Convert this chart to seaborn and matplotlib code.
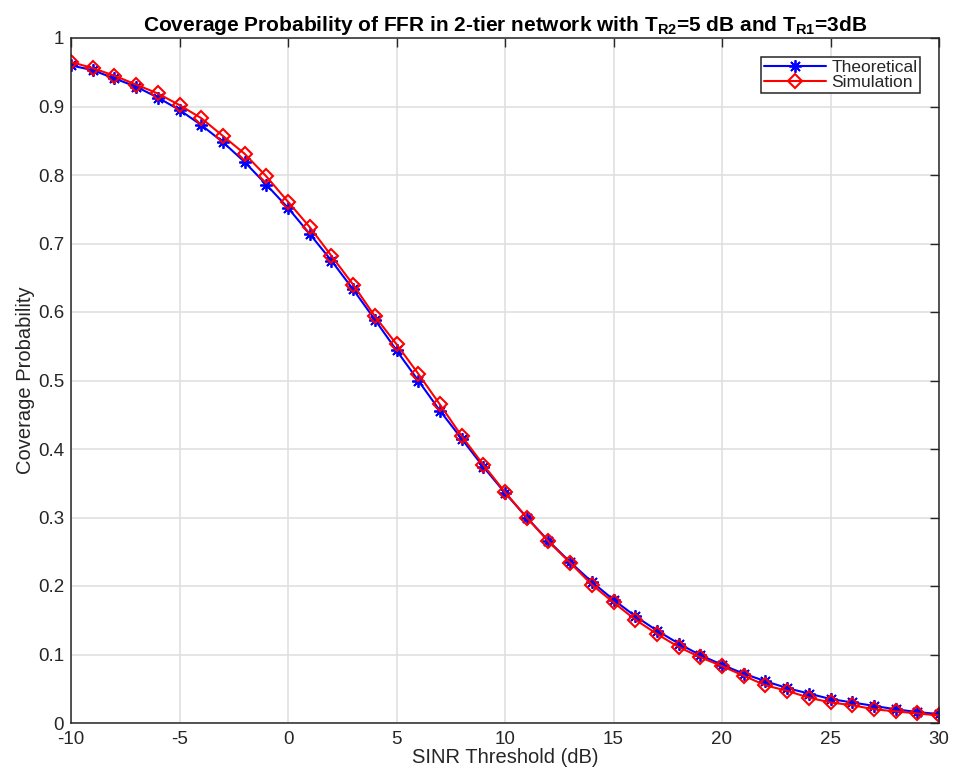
import numpy as np
import pandas as pd
import matplotlib
matplotlib.use("Agg")
import matplotlib.pyplot as plt
import seaborn as sns

sinr_db = list(range(-10, 31))
theoretical = [0.960, 0.953, 0.941, 0.929, 0.913, 0.895, 0.873, 0.848, 0.819, 0.786,
               0.752, 0.714, 0.675, 0.633, 0.589, 0.544, 0.500, 0.456, 0.415, 0.374,
               0.336, 0.300, 0.266, 0.235, 0.206, 0.180, 0.156, 0.135, 0.116, 0.099,
               0.085, 0.072, 0.061, 0.051, 0.043, 0.035, 0.030, 0.025, 0.020, 0.016, 0.013]
simulation = [0.965, 0.956, 0.945, 0.932, 0.919, 0.902, 0.883, 0.857, 0.831, 0.798,
              0.761, 0.724, 0.682, 0.640, 0.594, 0.553, 0.510, 0.465, 0.419, 0.377,
              0.337, 0.300, 0.265, 0.234, 0.202, 0.176, 0.151, 0.130, 0.111, 0.096,
              0.083, 0.069, 0.055, 0.047, 0.037, 0.030, 0.026, 0.020, 0.017, 0.014, 0.011]
x_ticks = [-10, -5, 0, 5, 10, 15, 20, 25, 30]
y_ticks = [0, 0.1, 0.2, 0.3, 0.4, 0.5, 0.6, 0.7, 0.8, 0.9, 1]
y_tick_labels = ["0", "0.1", "0.2", "0.3", "0.4", "0.5", "0.6", "0.7", "0.8", "0.9", "1"]

sns.set_style("white")
plt.rcParams['font.family'] = ['Liberation Sans', 'DejaVu Sans']
plt.rcParams['mathtext.fontset'] = 'custom'
plt.rcParams['mathtext.rm'] = 'Liberation Sans'
plt.rcParams['mathtext.bf'] = 'Liberation Sans:bold'

df = pd.DataFrame({"x": sinr_db, "Theoretical": theoretical, "Simulation": simulation})

W, H = 957, 774
L, R, T, B = 71, 939, 38, 723
fig = plt.figure(figsize=(W / 100, H / 100), dpi=100)
ax = fig.add_axes([L / W, 1 - B / H, (R - L) / W, (B - T) / H])

asterisk = (8, 2, 0)
sns.lineplot(data=df, x="x", y="Theoretical", ax=ax, color="#0000ff", lw=1.5,
             marker=asterisk, markersize=9, markeredgewidth=1.3, markeredgecolor="#0000ff",
             label="Theoretical")
sns.lineplot(data=df, x="x", y="Simulation", ax=ax, color="#ff0000", lw=1.5,
             marker="D", markersize=6.8, fillstyle="none", markeredgewidth=1.5,
             markeredgecolor="#ff0000", label="Simulation")

ax.set_xlim(-10, 30)
ax.set_ylim(0, 1)
ax.set_xticks(x_ticks)
ax.set_xticklabels([str(t) for t in x_ticks])
ax.set_yticks(y_ticks)
ax.set_yticklabels(y_tick_labels)
ax.grid(True, color="#e0e0e0", lw=1.2)
ax.set_axisbelow(True)
ax.tick_params(direction="in", length=6.5, width=1, top=True, right=True,
               labelsize=13.5, colors="#262626", labelcolor="#262626")
ax.tick_params(axis="x", pad=6)
ax.tick_params(axis="y", pad=5)
for s in ax.spines.values():
    s.set_color("#262626")
    s.set_linewidth(1.1)
ax.set_xlabel("SINR Threshold (dB)", fontsize=14.5, color="#262626", labelpad=0)
ax.set_ylabel("Coverage Probability", fontsize=14.5, color="#262626", labelpad=2)
ax.set_title(r"Coverage Probability of FFR in 2-tier network with T$_{\mathbf{R2}}$=5 dB and T$_{\mathbf{R1}}$=3dB",
             fontsize=15, fontweight="bold", pad=5, color="black")

leg = ax.legend(loc="upper right",
                bbox_to_anchor=((920 - L) / (R - L), (B - 57) / (B - T)),
                fontsize=12.5, frameon=True, fancybox=False, edgecolor="#262626",
                handlelength=3.6, borderpad=0.15, labelspacing=0.0, handletextpad=0.3,
                borderaxespad=0.0, framealpha=1)
leg.get_frame().set_linewidth(1.1)

fig.savefig("out.png", dpi=100)
